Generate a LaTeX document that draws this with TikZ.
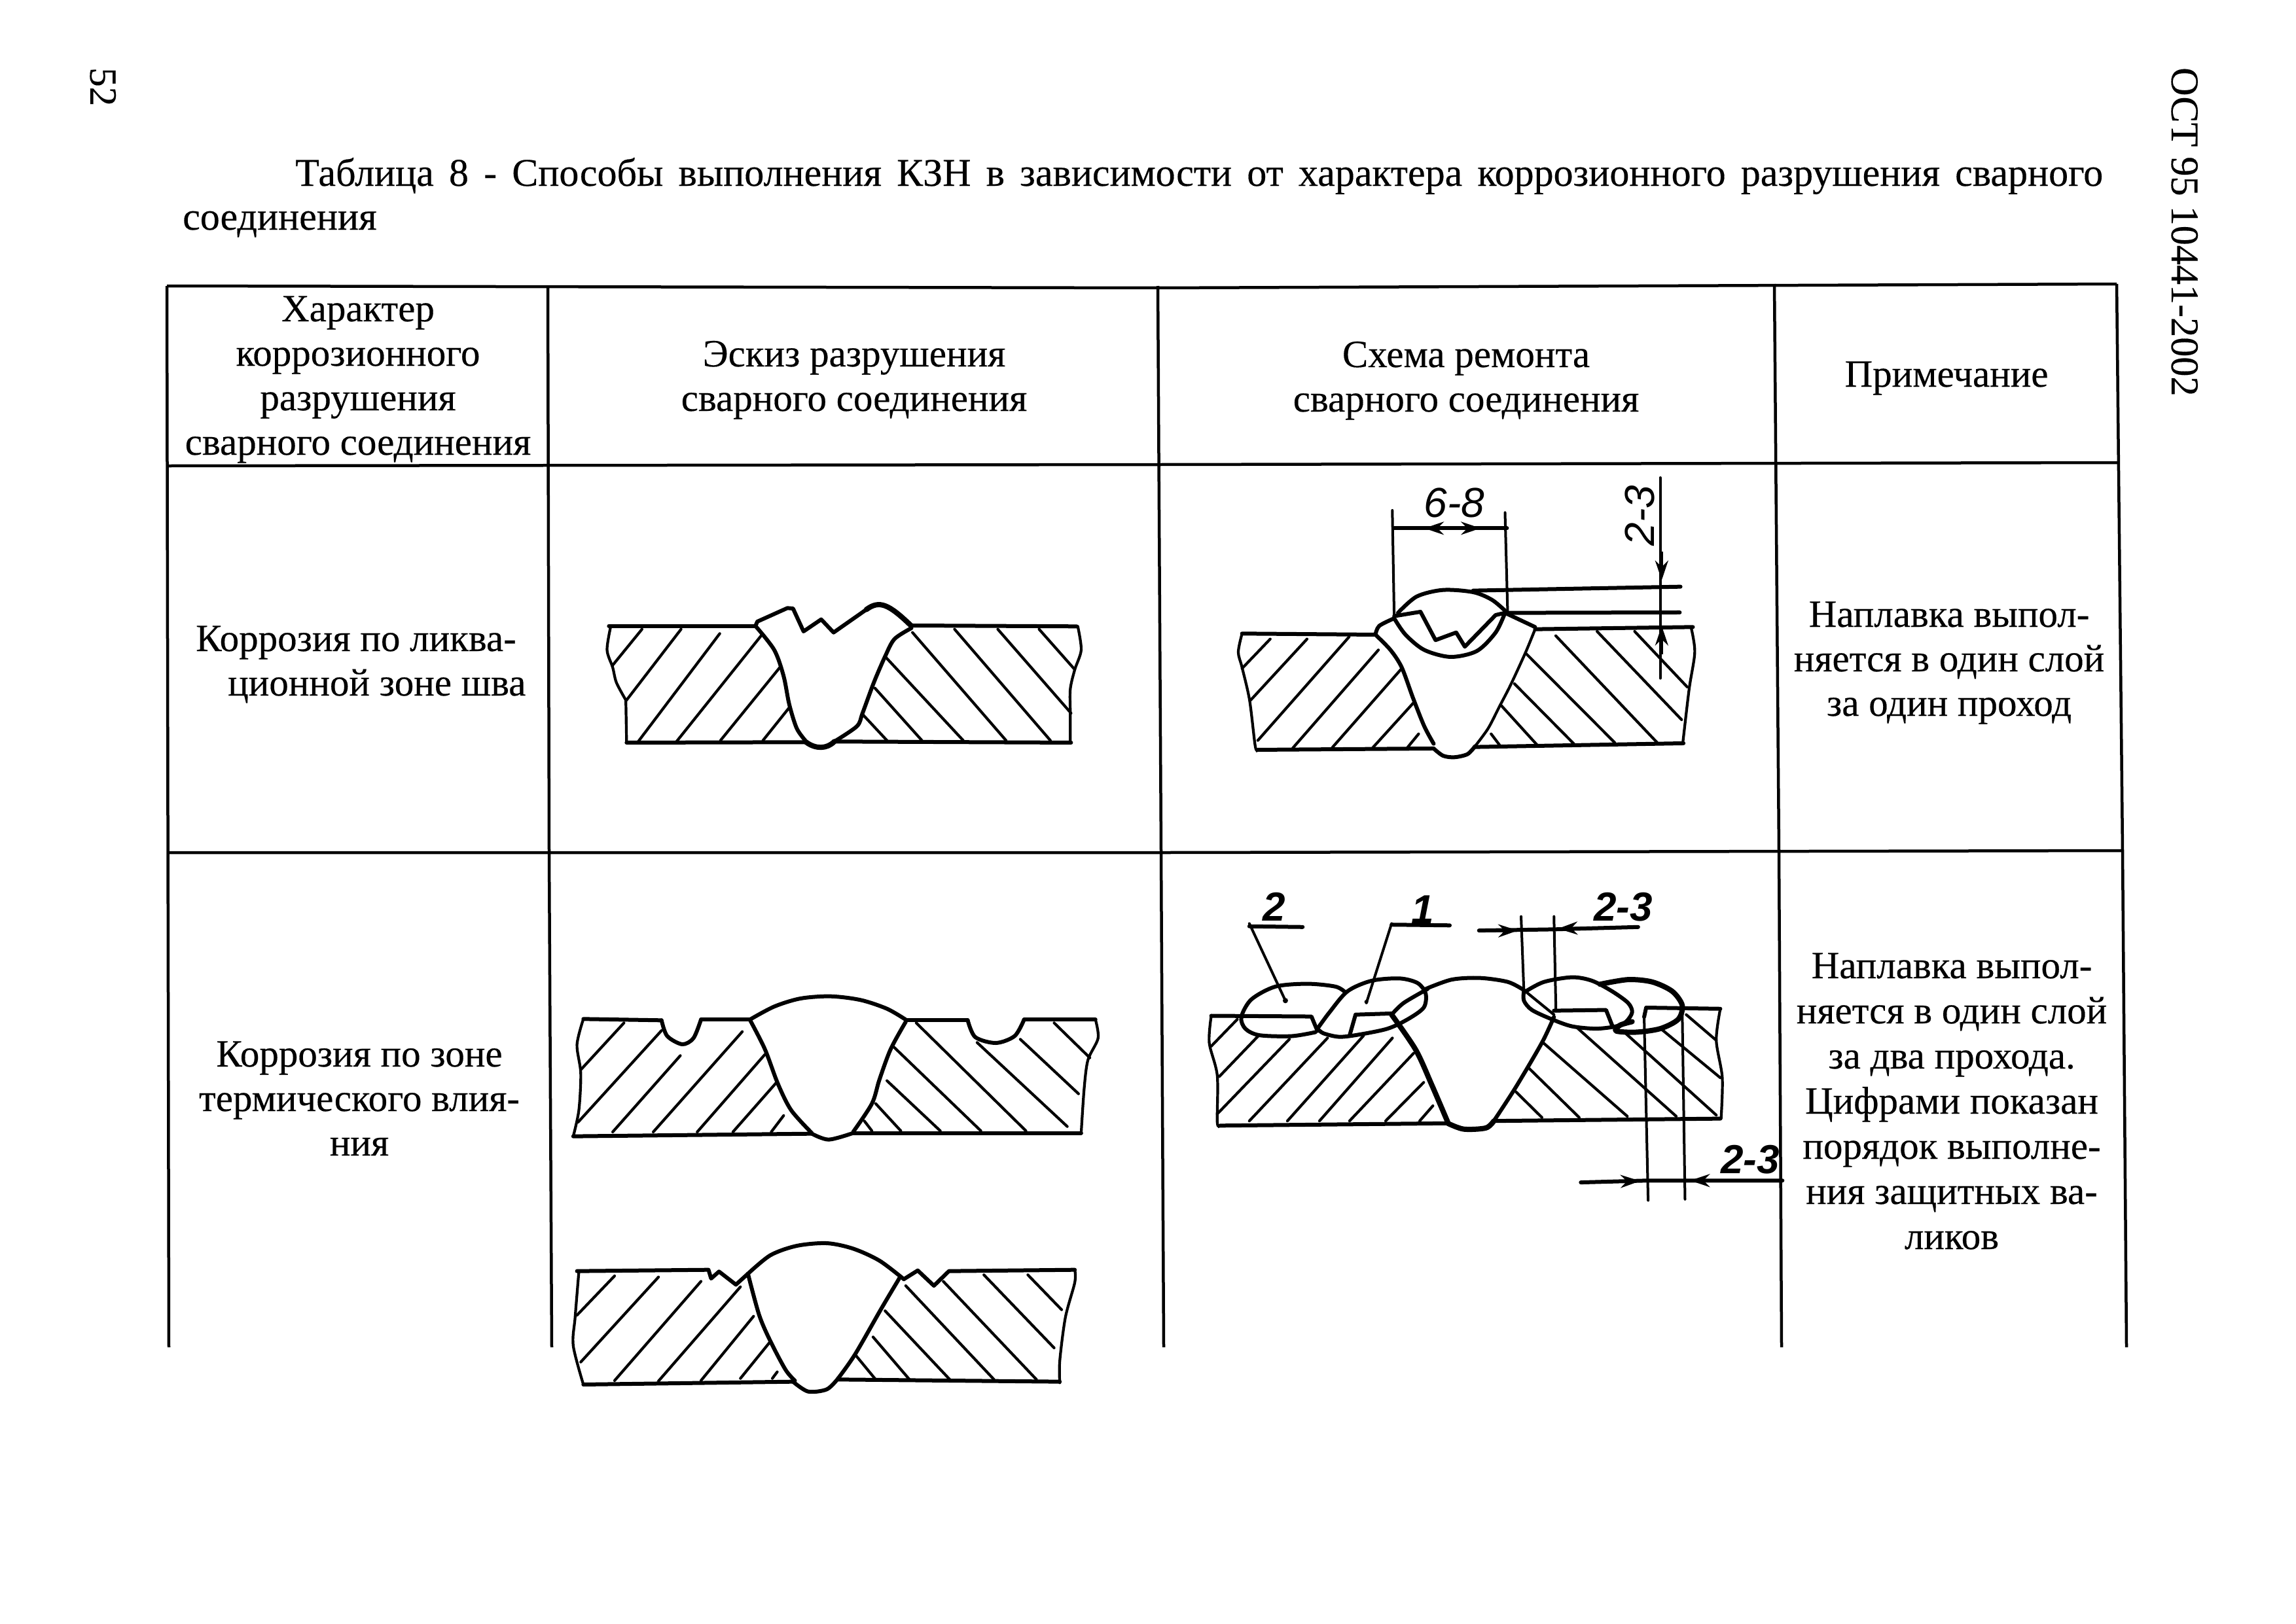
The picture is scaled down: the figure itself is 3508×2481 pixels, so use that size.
\documentclass[tikz,border=0pt]{standalone}
\usepackage{fontspec}
\setmainfont{Liberation Serif}[FakeBold=0.3]
\setsansfont{Liberation Sans}
\usetikzlibrary{arrows.meta}
\tikzset{
    every node/.style={inner sep=0mm, anchor=base, align=center, font=\fontsize{59}{68}\selectfont},
    sk/.style n args={4}{shift={(#1,#2)}, x=#3pt, y=-#4pt},
    grid/.style={line width=4.5pt},
    outline/.style={line width=6pt, line join=round, line cap=round},
    heavy/.style={line width=8pt, line join=round, line cap=round},
    hatch/.style={line width=4.2pt, line cap=round},
    dim/.style={line width=4pt, line cap=round},
    dimtip/.style={line width=4pt, -{Stealth[length=30pt,width=20pt]}},
    hand/.style={font=\fontsize{64}{64}\selectfont\sffamily\itshape},
    handb/.style={font=\fontsize{62}{62}\selectfont\sffamily\itshape\bfseries}
}

\begin{document}
\begin{tikzpicture}[x=1pt,y=-1pt]
  \fill[white] (0,0) rectangle (3508,2481);
  \useasboundingbox (0,0) rectangle (3508,2481);

  \node (page) [rotate=-90, anchor=base west] at (138,103) {52};
  \node (std) [rotate=-90, anchor=base west, font=\fontsize{60.2}{68}\selectfont] at (3318,103) {ОСТ 95 10441-2002};
  \node (title) [anchor=base west, font=\fontsize{60}{67}\selectfont, align=left] at (279,351)
    {\hspace*{172pt}\makebox[2762pt][s]{Таблица 8 - Способы выполнения КЗН в зависимости от характера коррозионного разрушения сварного}\\соединения};

  % table
  \draw[grid] (255,437) -- (1770,440) -- (3234,434);
  \draw[grid] (255,712) -- (1770,710) -- (3236,707);
  \draw[grid] (255,1303) -- (1780,1303) -- (3243,1300);
  \draw[grid] (255,437) -- (258,2059);
  \draw[grid] (837,437) -- (839,1303) -- (843,2059);
  \draw[grid] (1769,437) -- (1774,1303) -- (1778,2059);
  \draw[grid] (2711,434) -- (2718,1303) -- (2722,2059);
  \draw[grid] (3234,434) -- (3243,1303) -- (3249,2059);

  \node (h1) at (547,695) {Характер\\коррозионного\\разрушения\\сварного соединения};
  \node (h2) at (1305,628) {Эскиз разрушения\\сварного соединения};
  \node (h3) at (2240,629) {Схема ремонта\\сварного соединения};
  \node (h4) at (2974,591) {Примечание};
  \node (a1) [anchor=base west, align=left] at (299,1063) {Коррозия по ликва-\\\hspace*{49pt}ционной зоне шва};
  \node (b1) at (549,1766) {Коррозия по зоне\\термического влия-\\ния};
  \node (a4) at (2978,1094) {Наплавка выпол-\\няется в один слой\\за один проход};
  \node (b4) [font=\fontsize{59}{69}\selectfont] at (2982,1909) {Наплавка выпол-\\няется в один слой\\за два прохода.\\Цифрами показан\\порядок выполне-\\ния защитных ва-\\ликов};

  % first row, sketch of the damage
  \begin{scope}[sk={850}{700}{0.574}{0.3333}]
    \draw[outline] (140,770) -- (530,770);
    \draw[outline] (945,768) -- (1385,772);
    \draw[outline] (530,770) -- (535,750) -- (615,688) -- (630,690) -- (658,795) -- (705,740) -- (738,800) -- (825,695);
    \draw[heavy] (825,695) .. controls (860,650) and (885,670) .. (945,770);
    \draw[hatch] plot[smooth] coordinates {(145,770) (135,880) (150,960) (160,1030) (185,1110)} -- (187,1305);
    \draw[outline] (187,1305) -- (665,1303);
    \draw[heavy] (665,1303) .. controls (690,1335) and (720,1335) .. (740,1300);
    \draw[outline] (740,1300) -- (1370,1305);
    \draw[hatch] plot[smooth] coordinates {(1388,772) (1397,880) (1380,970) (1368,1060) (1368,1170) (1368,1300)};
    \draw[outline] plot[smooth] coordinates {(530,770) (580,880) (605,1000) (620,1130) (640,1240) (665,1300)};
    \draw[outline] plot[smooth] coordinates {(945,780) (900,830) (875,910) (845,1030) (815,1170) (800,1230) (740,1300)};
    \foreach \xa/\ya/\xb/\yb in {150/950/228/785, 187/1110/332/785, 218/1300/435/805, 320/1300/545/815, 437/1295/595/960, 550/1295/622/1140,
      948/800/1197/1295, 1060/785/1315/1295, 1175/785/1370/1170, 1285/785/1380/970, 875/910/1083/1295, 848/1055/973/1295, 815/1175/880/1295}
      \draw[hatch] (\xa,\ya) -- (\xb,\yb);
  \end{scope}

  % first row, repair scheme
  \begin{scope}[sk={1780}{720}{0.574}{0.3333}]
    \draw[outline] (205,745) -- (560,750);
    \draw[outline] (985,725) -- (1405,715);
    \draw[hatch] plot[smooth] coordinates {(205,745) (195,830) (205,900) (225,1050) (240,1260) (247,1280)};
    \draw[hatch] plot[smooth] coordinates {(1400,715) (1410,830) (1395,1000) (1378,1250)};
    \draw[outline] (247,1278) -- (715,1272);
    \draw[outline] plot[smooth] coordinates {(715,1272) (740,1305) (770,1312) (805,1298) (825,1262)};
    \draw[outline] (825,1265) -- (1380,1248);
    \draw[outline] plot[smooth] coordinates {(560,750) (600,820) (630,900) (660,1040) (690,1170) (715,1250)};
    \draw[hatch] plot[smooth] coordinates {(985,725) (960,830) (920,980) (890,1080) (860,1180) (825,1262)};
    \draw[outline] plot[smooth] coordinates {(560,750) (570,710) (610,675)};
    \draw[outline] (610,665) -- (680,645) -- (720,775) -- (775,740) -- (798,805) -- (880,660) -- (905,650) -- (985,715);
    \draw[outline] plot[smooth] coordinates {(610,675) (640,750) (690,820) (760,852) (830,825) (880,740) (905,650)};
    \draw[outline] plot[smooth] coordinates {(620,650) (670,575) (740,545) (820,555) (870,590) (905,640)};
    \draw[dim] (605,180) -- (610,670);
    \draw[dim] (905,190) -- (912,650);
    \draw[outline] (610,262) -- (910,262);
    \draw[dimtip] (770,262) -- (690,262);
    \draw[dimtip] (760,262) -- (840,262);
    \draw[outline] (820,548) -- (1372,530);
    \draw[outline] (905,650) -- (1370,648);
    \draw[dim] (1318,30) -- (1318,950);
    \draw[dimtip] (1322,370) -- (1322,500);
    \draw[dimtip] (1322,840) -- (1322,710);
    \foreach \xa/\ya/\xb/\yb in {205/905/280/770, 228/1050/378/770, 247/1235/490/760, 340/1270/568/820, 445/1268/630/905, 553/1268/660/1065, 645/1268/675/1205,
      1040/755/1310/1245, 1150/735/1375/1140, 1250/735/1390/990, 960/835/1197/1245, 930/975/1088/1250, 895/1075/990/1255, 868/1205/890/1255}
      \draw[hatch] (\xa,\ya) -- (\xb,\yb);
  \end{scope}
  \node (w68) [hand, anchor=center] at (2222,768) {6-8};
  \node (t23) [hand, anchor=center, rotate=90] at (2505,788) {2-3};

  % second row, sketch with the grooves
  \begin{scope}[sk={850}{1480}{0.574}{0.3333}]
    \draw[outline] (72,232) -- (280,238);
    \draw[outline] plot[smooth] coordinates {(280,238) (295,310) (335,348) (365,320) (385,235)};
    \draw[outline] (385,235) -- (515,235);
    \draw[outline] plot[smooth] coordinates {(515,235) (580,175) (650,138) (730,128) (810,145) (880,185) (930,235)};
    \draw[outline] (930,238) -- (1095,238);
    \draw[outline] plot[smooth] coordinates {(1095,238) (1115,315) (1170,342) (1220,310) (1245,235)};
    \draw[outline] (1245,235) -- (1435,235);
    \draw[hatch] plot[smooth] coordinates {(1435,235) (1442,320) (1415,420) (1405,550) (1397,755)};
    \draw[outline] (45,770) -- (680,758);
    \draw[outline] plot[smooth] coordinates {(680,758) (725,785) (790,755)};
    \draw[outline] (790,755) -- (1397,755);
    \draw[hatch] plot[smooth] coordinates {(72,232) (55,350) (65,480) (60,650) (45,770)};
    \draw[outline] plot[smooth] coordinates {(515,235) (555,370) (590,530) (625,650) (680,755)};
    \draw[outline] plot[smooth] coordinates {(930,245) (890,370) (860,510) (840,620) (790,750)};
    \foreach \xa/\ya/\xb/\yb in {65/465/180/250, 58/705/280/285, 150/750/330/400, 258/750/495/290, 375/750/555/395, 470/750/585/525, 572/750/605/675,
      820/700/840/745, 850/620/917/745, 880/515/1022/745, 898/360/1130/745, 958/250/1250/745, 1120/340/1360/725, 1235/325/1390/575, 1325/250/1420/410}
      \draw[hatch] (\xa,\ya) -- (\xb,\yb);
  \end{scope}

  % second row, sketch with the cracks
  \begin{scope}[sk={850}{1880}{0.574}{0.3333}]
    \draw[outline] (55,188) -- (405,182) -- (412,222) -- (433,190) -- (478,250) -- (510,200);
    \draw[outline] plot[smooth] coordinates {(510,200) (570,115) (640,72) (720,60) (790,85) (860,140) (925,225)};
    \draw[outline] (925,225) -- (962,185) -- (1005,255) -- (1045,188) -- (1380,182);
    \draw[hatch] plot[smooth] coordinates {(1380,182) (1380,240) (1355,400) (1340,600) (1340,700)};
    \draw[outline] (72,708) -- (630,695);
    \draw[outline] plot[smooth] coordinates {(630,695) (670,740) (720,730) (750,680)};
    \draw[outline] (750,685) -- (1340,695);
    \draw[hatch] plot[smooth] coordinates {(60,190) (50,400) (45,530) (72,708)};
    \draw[outline] plot[smooth] coordinates {(510,200) (540,390) (570,510) (610,640) (635,690)};
    \draw[outline] plot[smooth] coordinates {(915,215) (865,360) (795,570) (750,680)};
    \foreach \xa/\ya/\xb/\yb in {55/390/155/210, 65/605/272/215, 155/690/385/235, 272/692/490/260, 385/690/525/395, 490/680/570/510, 575/680/588/650,
      795/570/850/685, 843/490/940/685, 875/370/1050/690, 930/255/1165/685, 1030/235/1278/685, 1138/205/1325/540, 1255/205/1345/365}
      \draw[hatch] (\xa,\ya) -- (\xb,\yb);
  \end{scope}

  % second row, repair scheme
  \begin{scope}[sk={1820}{1340}{0.6124}{0.3571}]
    \draw[outline] (50,595) -- (300,598) -- (315,660);
    \draw[outline] (395,680) -- (410,590) -- (500,585);
    \draw[outline] (905,573) -- (1035,570) -- (1050,635);
    \draw[outline] (1130,600) -- (1135,560) -- (1320,565);
    \draw[hatch] plot[smooth] coordinates {(50,595) (45,710) (65,850) (65,1050) (72,1065)};
    \draw[outline] (72,1065) -- (640,1055);
    \draw[heavy] plot[smooth] coordinates {(640,1055) (680,1080) (735,1075) (755,1045)};
    \draw[outline] (755,1045) -- (1320,1035);
    \draw[hatch] plot[smooth] coordinates {(1320,565) (1310,700) (1325,860) (1322,1035)};
    \draw[outline] plot[smooth] coordinates {(585,480) (650,440) (720,433) (790,450) (830,485)};
    \draw[heavy] plot[smooth] coordinates {(500,590) (560,740) (600,890) (640,1050)};
    \draw[outline] plot[smooth] coordinates {(905,600) (875,710) (810,900) (755,1045)};
    \draw[outline] plot[smooth] coordinates {(385,495) (360,470) (290,458) (210,470) (150,525) (125,600) (135,650) (170,678) (250,682) (310,665)};
    \draw[outline] plot[smooth] coordinates {(315,650) (345,580) (390,490) (450,445) (520,435) (565,455) (585,500) (580,560) (540,610) (490,650) (420,675) (370,685) (330,670) (315,650)};
    \draw[outline] plot[smooth] coordinates {(590,480) (530,540) (500,590)};
    \draw[outline] plot[smooth] coordinates {(835,490) (880,450) (950,430) (1000,445) (1050,490) (1090,540) (1100,580) (1085,620) (1060,640) (1010,650) (950,640) (900,610) (850,570) (830,530) (830,490)};
    \draw[hatch] (830,485) -- (905,590);
    \draw[heavy] plot[smooth] coordinates {(1020,460) (1090,440) (1150,450) (1200,490) (1225,550) (1215,610) (1170,650) (1110,665) (1060,660) (1070,635) (1100,620)};
    \draw[dim] (145,200) -- (235,530);
    \draw[outline] (145,212) -- (278,215);
    \fill (235,530) circle (4pt);
    \draw[dim] (500,200) -- (437,540);
    \draw[outline] (500,205) -- (645,208);
    \fill (437,535) circle (3pt);
    \draw[dim] (823,170) -- (830,490);
    \draw[dim] (905,170) -- (910,575);
    \draw[outline] (718,230) -- (905,225) -- (1115,215);
    \draw[dimtip] (740,232) -- (815,230);
    \draw[dimtip] (995,218) -- (915,222);
    \draw[dim] (1130,600) -- (1140,1385);
    \draw[dim] (1225,570) -- (1232,1380);
    \draw[outline] (972,1308) -- (1140,1300) -- (1475,1300);
    \draw[dimtip] (1040,1305) -- (1120,1302);
    \draw[dimtip] (1330,1300) -- (1245,1300);
    \foreach \xa/\ya/\xb/\yb in {50/725/115/610, 70/855/168/680, 65/1015/245/695, 145/1045/340/690, 240/1045/430/680, 320/1045/502/690, 395/1045/555/755, 485/1045/580/880, 570/1045/603/980,
      810/920/875/1030, 843/820/968/1030, 878/710/1088/1025, 962/645/1210/1025, 1085/672/1310/1020, 1175/655/1320/860, 1235/590/1310/700}
      \draw[hatch] (\xa,\ya) -- (\xb,\yb);
  \end{scope}
  \node (n2) [handb, anchor=center] at (1947,1386) {2};
  \node (n1) [handb, anchor=center] at (2174,1390) {1};
  \node (u23) [handb, anchor=center] at (2480,1386) {2-3};
  \node (v23) [handb, anchor=center] at (2674,1772) {2-3};
\end{tikzpicture}
\end{document}
